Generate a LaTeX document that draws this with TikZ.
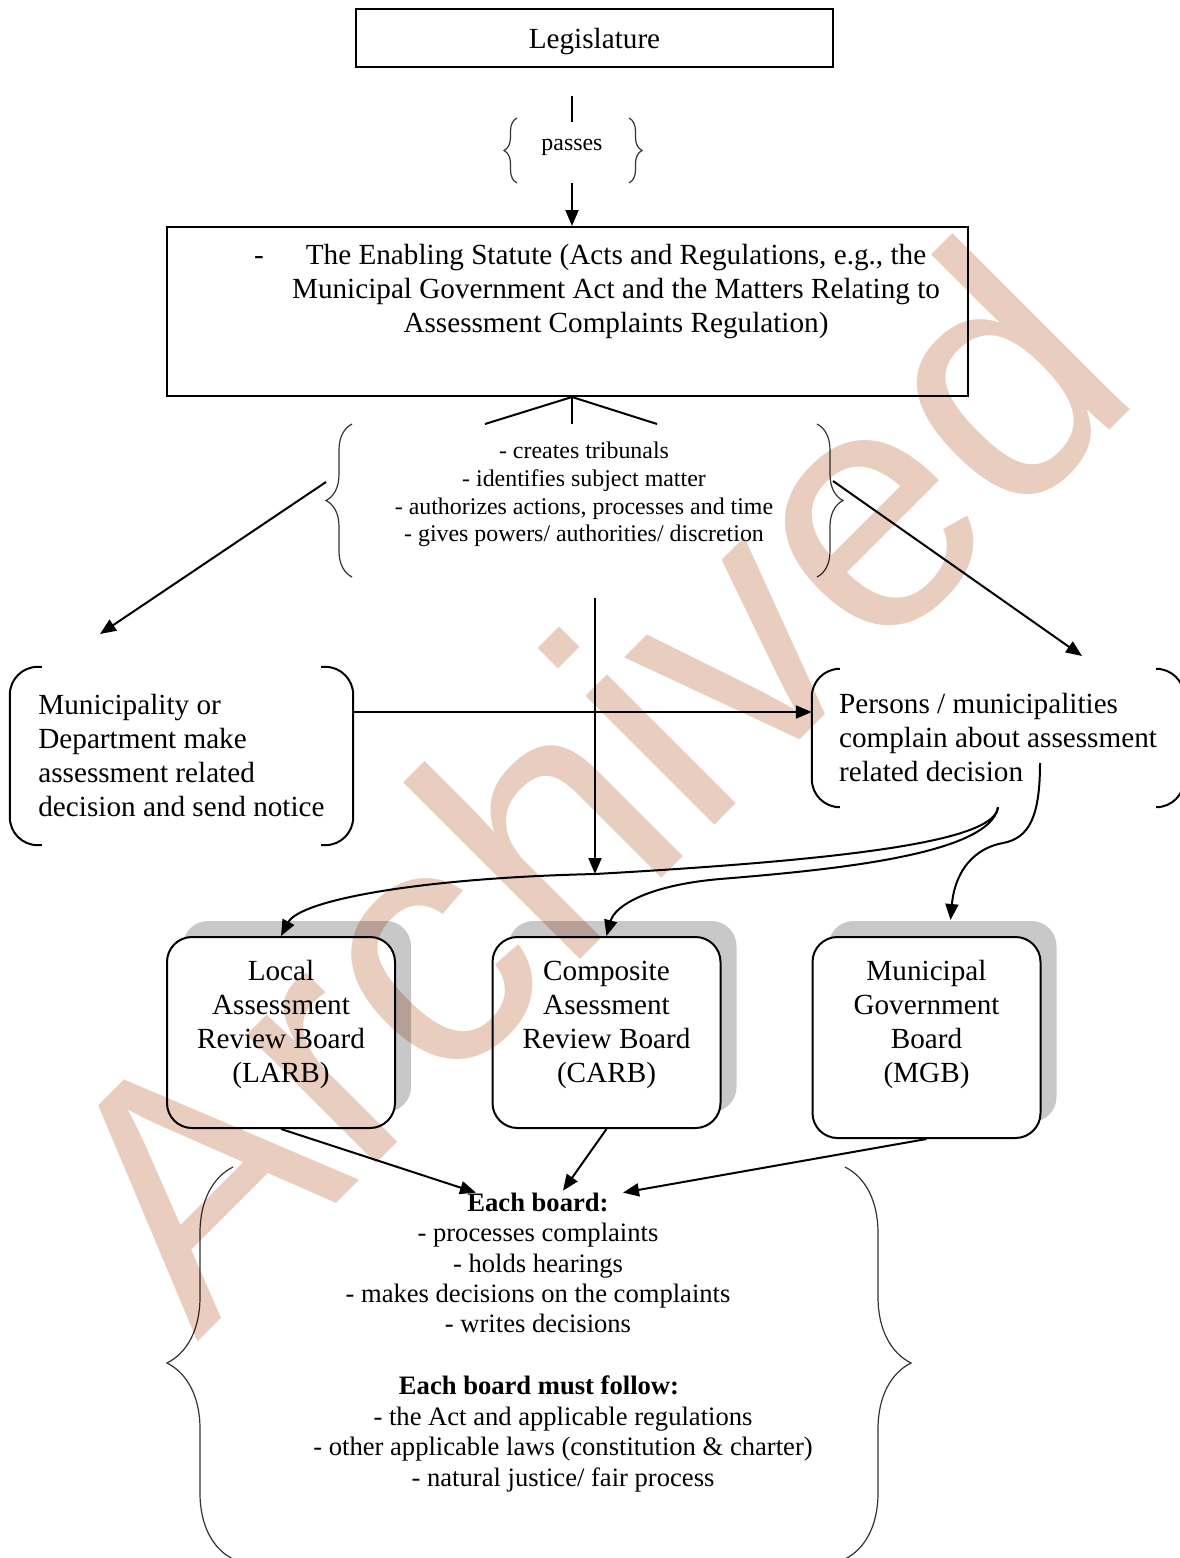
\documentclass[tikz,border=0pt]{standalone}
\usepackage{fontspec}
\setmainfont{Liberation Serif}
\newfontfamily\wmfont{Liberation Sans}
\usetikzlibrary{arrows.meta}
\usetikzlibrary{calc}
\usetikzlibrary{shadows}
\usetikzlibrary{decorations.pathreplacing}
\definecolor{wmsalmon}{RGB}{233,205,191}
\definecolor{shadowgray}{RGB}{200,200,200}
\tikzset{
  bodytext/.style={font=\fontsize{29.2}{34}\selectfont},
  smalltext/.style={font=\fontsize{23.9}{27.7}\selectfont},
  bottomtext/.style={font=\fontsize{26.6}{30.4}\selectfont},
  plainbox/.style={draw, line width=2pt, bodytext},
  boardbox/.style={draw, line width=2pt, rounded corners=25pt, fill=white, bodytext, align=center,
    minimum width=228pt, minimum height=191pt,
    drop shadow={shadow xshift=16pt, shadow yshift=16pt, fill=shadowgray, opacity=1}},
  bracketnode/.style={bodytext, align=left, inner sep=0pt},
  bracketline/.style={line width=2pt, rounded corners=28pt},
  link/.style={line width=2pt},
  arrow/.style={link, -{Triangle[length=16pt,width=13pt]}},
  bracepath/.style={line width=1.2pt, black!80, decorate, decoration={brace, amplitude=#1}}
}
\begin{document}
\begin{tikzpicture}[x=1pt, y=-1pt]
        \useasboundingbox (0,0) rectangle (1180,1558);

        \node[plainbox, minimum width=477pt, minimum height=58pt, text height=26pt, text depth=6pt] (legis) at (594.5,38) {Legislature};
        \coordinate (passtop) at (572,96);
        \node[smalltext, text height=11pt, text depth=16pt, inner ysep=17pt] (passes) at (572,152.5) {passes};
        \draw[bracepath=13pt] (517,183) -- (517,118);
        \draw[bracepath=13pt] (629,118) -- (629,183);
        \draw[link] (passtop) -- (passes.north);

        \node[plainbox, minimum width=801pt, minimum height=169pt] (statute) at (567.5,311.5) {};
        \node[bodytext, align=center] (statutetext) at (616,292)
            {\llap{-\hspace{42pt}}The Enabling Statute (Acts and Regulations, e.g., the\\
             Municipal Government Act and the Matters Relating to\\
             Assessment Complaints Regulation)};
        \draw[arrow] (passes.south) -- (statute.north -| passes.south);

        \coordinate (forkL) at (485,424);
        \coordinate (forkM) at (572,424);
        \coordinate (forkR) at (657,424);
        \draw[link] (forkL) -- (statute.south -| forkM) -- (forkR);
        \draw[link] (statute.south -| forkM) -- (forkM);

        \node[smalltext, align=center] (tasks) at (584,494.5)
            {- creates tribunals\\ - identifies subject matter\\
             - authorizes actions, processes and time\\ - gives powers/ authorities/ discretion};
        \draw[bracepath=26pt] (352,577) -- (352,424);
        \draw[bracepath=26pt] (817,424) -- (817,577);

        \coordinate (tipL) at (326,482);
        \coordinate (endL) at (100,634);
        \coordinate (tipR) at (833,481);
        \coordinate (endR) at (1082,656);
        \coordinate (drop) at (595,598);
        \coordinate (join) at (595,874);
        \draw[arrow] (tipL) -- (endL);
        \draw[arrow] (tipR) -- (endR);
        \draw[arrow] (drop) -- (join);

        \node[bracketnode, minimum width=343pt, minimum height=178pt] (munic) at (181.5,756)
            {Municipality or\\ Department make\\ assessment related\\ decision and send notice};
        \draw[bracketline] ([xshift=32pt]munic.north west) -- (munic.north west) -- (munic.south west) -- ([xshift=32pt]munic.south west);
        \draw[bracketline] ([xshift=-32pt]munic.north east) -- (munic.north east) -- (munic.south east) -- ([xshift=-32pt]munic.south east);

        \node[bracketnode, minimum width=372pt, minimum height=138pt] (persons) at (998,738)
            {Persons / municipalities\\ complain about assessment\\ related decision};
        \draw[bracketline] ([xshift=24pt]persons.north west) -- (persons.north west) -- (persons.south west) -- ([xshift=24pt]persons.south west);
        \draw[bracketline] ([xshift=-24pt]persons.north east) -- (persons.north east) -- (persons.south east) -- ([xshift=-24pt]persons.south east);

        \draw[arrow] ($(munic.east)+(0,-44)$) -- ($(persons.west)+(0,-26)$);

        \node[boardbox, text depth=22pt] (larb) at (281,1032.5) {Local\\ Assessment\\ Review Board\\ (LARB)};
        \node[boardbox, text depth=22pt] (carb) at (606.5,1032.5) {Composite\\ Asessment\\ Review Board\\ (CARB)};
        \node[boardbox, text depth=32pt, minimum height=201pt] (mgb) at (926.5,1037.5) {Municipal\\ Government\\ Board\\ (MGB)};

        \draw[arrow] (persons.south) .. controls (995,838) and (880,858) .. (join)
            .. controls (420,878) and (300,900) .. (larb.north);
        \draw[arrow] (persons.south) .. controls (990,855) and (830,870) .. (720,879)
            .. controls (650,885) and (615,905) .. (carb.north);
        \draw[arrow] ($(persons.center)+(42,25)$) .. controls (1040,815) and (1030,838) .. (1003,843)
            .. controls (975,848) and (955,870) .. ($(mgb.north)+(24,-16)$);

        \node[bottomtext, align=center, inner sep=2pt] (duties) at (538,1263)
            {\textbf{Each board:}\\ - processes complaints\\ - holds hearings\\
             - makes decisions on the complaints\\ - writes decisions};
        \node[bottomtext, align=center, inner sep=2pt] (rules) at (539,1434)
            {\textbf{Each board must follow:}\\
             \hspace*{48pt}- the Act and applicable regulations\\
             \hspace*{48pt}- other applicable laws (constitution \& charter)\\
             \hspace*{48pt}- natural justice/ fair process};
        \draw[bracepath=66pt] (233,1559) -- (233,1167);
        \draw[bracepath=66pt] (845,1167) -- (845,1559);

        \draw[arrow] (larb.south) -- ($(duties.north)+(-62,2)$);
        \draw[arrow] (carb.south) -- ($(duties.north)+(25,0)$);
        \draw[arrow] (mgb.south) -- ($(duties.north)+(85,2)$);

        \begin{scope}[blend mode=multiply]
        \node[anchor=base west, rotate=45, inner sep=0pt, text=wmsalmon,
              font=\wmfont\fontsize{345}{345}\selectfont] (stamp) at (197,1343) {Archived};
        \end{scope}
    \end{tikzpicture}
\end{document}
